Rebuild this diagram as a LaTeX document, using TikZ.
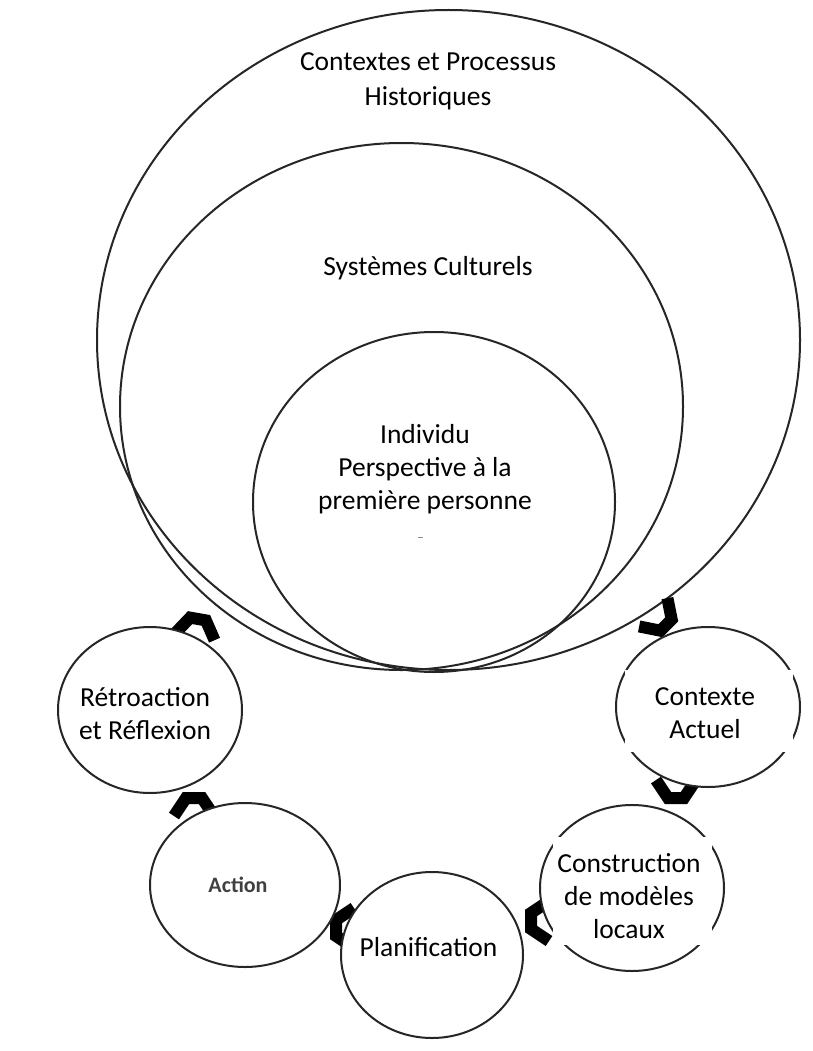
\documentclass[tikz,border=0pt]{standalone}
\usepackage{fontspec}
\setmainfont{Carlito}
\usetikzlibrary{shapes.geometric}
\tikzset{
  ring/.style={ellipse, draw=black!85, line width=2pt, inner sep=0pt},
  stage/.style={ring, fill=white},
  lbl/.style={font=\fontsize{27.5}{33}\selectfont, align=center, inner sep=0pt},
  chev/.pic={\draw[line width=12pt, line join=miter, line cap=butt, black] (-20,18) -- (-8,0) -- (8,0) -- (20,18);}
}
\begin{document}
\begin{tikzpicture}[x=1pt,y=-1pt]
\fill[white] (0,0) rectangle (812,1051);
\useasboundingbox (0,0) rectangle (812,1051);

% nested context rings
\node[ring, minimum width=703pt, minimum height=660pt] (hist) at (448.5,340) {};
\node[ring, minimum width=563pt, minimum height=527pt] (cult) at (401.5,406.5) {};
\node[ring, minimum width=362pt, minimum height=340pt] (indiv) at (434,502) {};

% arrow heads of the cycle
\coordinate (a1) at (198,619);
\coordinate (a2) at (666,625);
\coordinate (a3) at (676,798);
\coordinate (a4) at (531,921);
\coordinate (a5) at (336,928);
\coordinate (a6) at (194,798);
\pic[rotate=-10] at (a1) {chev};
\pic[rotate=-135] at (a2) {chev};
\pic[rotate=180] at (a3) {chev};
\pic[rotate=90] at (a4) {chev};
\pic[rotate=90] at (a5) {chev};
\pic[rotate=0] at (a6) {chev};

% cycle stages
\node[stage, minimum width=184pt, minimum height=166pt] (retro) at (150,710) {};
\node[stage, minimum width=190pt, minimum height=164pt] (act) at (245,885) {};
\node[stage, minimum width=182pt, minimum height=166pt] (plan) at (432,955) {};
\node[stage, minimum width=184pt, minimum height=166pt] (cons) at (632,888) {};
\node[stage, minimum width=184pt, minimum height=160pt] (ctx) at (708,707) {};

% white text boxes over the stage borders
\fill[white] (625,670) rectangle (793,752);
\fill[white] (553,837) rectangle (712,945);

% texts
\node[lbl, font=\fontsize{27.5}{35}\selectfont] (t-hist) at (428,81) {Contextes et Processus\\Historiques};
\node[lbl] (t-cult) at (428,268) {Systèmes Culturels};
\node[lbl] (t-indiv) at (425,469) {Individu\\Perspective à la\\première personne};
\draw[black!45, line width=1pt] (418,537) -- (423,537);
\node[lbl] (t-retro) at (145,714) {Rétroaction\\et Réflexion};
\node[lbl, font=\bfseries\fontsize{22}{27}\selectfont, text=black!75] (t-act) at (238,885) {Action};
\node[lbl] (t-plan) at (428.5,947) {Planification};
\node[lbl] (t-cons) at (629,896) {Construction\\de modèles\\locaux};
\node[lbl] (t-ctx) at (705,713) {Contexte\\Actuel};
\end{tikzpicture}
\end{document}
